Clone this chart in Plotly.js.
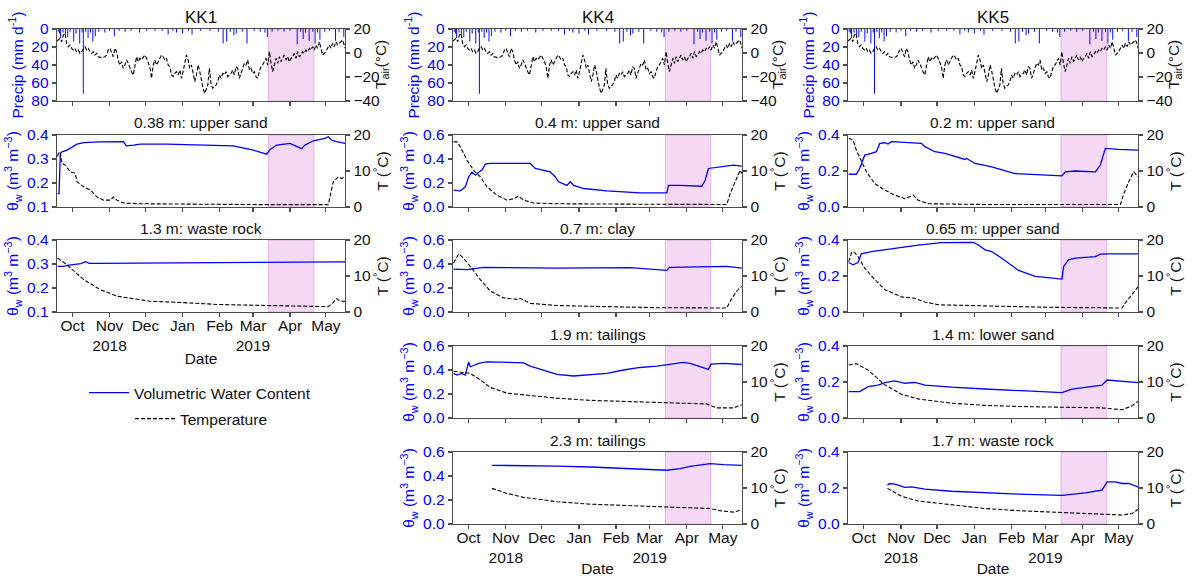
<!DOCTYPE html>
<html><head><meta charset="utf-8">
<script src="https://cdn.plot.ly/plotly-3.0.1.min.js"></script>
<style>html,body{margin:0;padding:0;background:#fff}#chart{width:1196px;height:577px}</style>
</head><body><div id="chart"></div>
<script>
// ---------- DATA (day offsets counted from 2018-09-18) ----------
const monthTickDates = ['2018-10-01','2018-11-01','2018-12-01','2019-01-01','2019-02-01','2019-03-01','2019-04-01','2019-05-01'];
const monthTickText = ['Oct','Nov<br>2018','Dec','Jan','Feb','Mar<br>2019','Apr','May'];
const shadeStart = '2019-03-14';
const shadeEnd = '2019-04-21';

const precipDays = [1,2,3,5,7,9,11,14,16,19,21,22,24,26,28,30,32,35,40,44,48,52,57,62,69,75,82,88,93,97,100,105,110,113,120,128,135,139,142,145,148,150,155,159,165,170,174,176,180,185,190,195,201,204,206,208,211,214,216,218,220,224,228,233,236,240];
const precipMM = [3,5,10,4,6,9,3,14,5,16,4,72,3,10,4,14,8,3,4,2,8,2,3,2,4,2,2,2,6,2,4,5,2,6,2,2,3,16,14,3,7,5,3,16,2,3,4,9,3,2,3,2,17,3,11,4,13,3,16,4,12,3,2,13,3,9];

const airDays = [0,1.1,2.5,3.9,5.3,6.7,8.1,9.5,10.9,12.3,13.6,15,16.4,17.8,19.2,20.6,22,23.4,24.8,26.2,27.6,29,30.4,31.7,33.1,34.5,37.3,40.1,41.5,42.9,44.3,45.7,47.1,48.4,49.8,51.2,52.6,54,55.4,56.8,58.2,59.6,61,62.4,63.8,65.2,66.6,67.9,69.3,70.7,72.1,73.5,74.9,76.3,77.7,79.1,80.5,81.9,83.3,84.7,86.1,87.4,88.8,90.2,91.6,93,94.4,95.8,97.2,98.6,100,101.4,102.8,104.1,105.5,106.9,108.3,109.7,111.1,112.5,113.9,115.3,116.7,118.1,119.5,120.8,122.2,123.6,124.8,126.2,127.5,128.9,130.3,131.7,133.1,134.5,135.9,137.3,138.7,140.1,141.5,142.9,144.3,145.7,147,148.4,149.8,151.2,152.6,154,155.4,156.8,158.2,159.6,161,162.4,163.8,165.2,166.5,167.9,169.3,170.7,172.1,173.5,174.9,176.3,177.7,179.1,180.5,181.9,183.3,184.7,186.1,187.4,188.8,190.2,191.6,193,194.4,195.8,197.2,198.6,200,201.4,202.8,204.2,205.5,206.9,208.3,209.7,211.1,212.5,213.9,215.3,216.7,218.1,219.5,220.9,222.3,223.6,225,226.4,227.8,229.2,230.6,232,233.4,234.8,236.2,237.6,239,240.4,241];
const airT = [10,10.8,12.2,9.4,15,16.4,8,5.2,6.7,3.9,2.5,3.9,1.1,2.5,-0.3,1.1,3.9,5.3,2.5,3.9,1.1,-0.3,1.1,-1.7,-0.3,-3.1,-3.9,-3.1,-1.7,2.5,3.9,-0.3,-3.1,3.9,1.1,-5.8,-10,-7.2,-12.8,-10,-5.8,-8.6,-12.8,-15.6,-18.3,-10,-3.1,-7.2,-4.4,-5.8,-3.1,-1.7,-4.4,-7.2,-11.4,-21.1,-10,-5.8,-10,-7.2,-4.4,-1.7,-3.1,-5.8,-4.4,-10,-11.4,-18.3,-19.7,-16.9,-15.6,-18.3,-14.2,-21.1,-15.6,-7.2,-1.7,-5.8,-12.8,-10,-16.9,-23.9,-18.3,-10,-15.6,-23.9,-29.4,-33.6,-30.8,-26.7,-12.8,-25.3,-29.4,-28.1,-26.7,-23.9,-18.3,-21.1,-17,-18.3,-15.6,-19.7,-18.3,-17,-14.2,-18.3,-11.4,-12.8,-21.1,-17,-12.8,-8.6,-10,-5.8,-14.2,-12.8,-17,-15.6,-19.7,-21.1,-15.6,-11.4,-10,-7.2,-4.4,-10,1.1,-8.6,-15.6,-10,-4.4,-8.6,-3.1,-7.2,-4.4,-1.7,-5.8,-3.1,-7.2,-4.4,-3.1,-0.3,-4.4,1.1,-3.1,-1.7,1.1,-0.3,2.5,1.1,3.9,2.5,5.3,2.5,6.7,3.9,9.4,2.5,-1.7,-0.3,1.1,3.9,6.7,3.9,8.1,5.3,9.4,6.7,8.1,9.4,10.8,6.7,4];

// KK1 0.38 m upper sand
const kk1_038_vwcDays = [0.5,1.7,2.8,4.2,8.4,12.5,16.7,22.3,36.2,55.7,57.9,64.1,69.6,91.9,119.8,147.6,164.3,175.5,178.3,183.8,195,200.6,204.7,207.5,214.5,224.2,227,229.8,234,241];
const kk1_038_vwc = [0.156,0.156,0.323,0.330,0.337,0.351,0.362,0.368,0.371,0.372,0.355,0.358,0.362,0.362,0.360,0.355,0.337,0.320,0.340,0.358,0.365,0.354,0.343,0.358,0.376,0.386,0.393,0.379,0.372,0.365];
const kk1_038_tDays = [0.5,1.4,2.8,4.2,7,11.1,15.3,16.7,22.3,27.9,33.4,39,44.6,47.4,50.1,55.7,69.6,119.8,175.5,227,228.4,231.2,235.4,238.2,241];
const kk1_038_t = [14,15.3,14.9,12.1,11.6,9.8,9.3,7.0,5.6,4.7,2.8,1.9,1.9,2.8,1.9,1.1,0.9,0.7,0.65,0.65,2.8,7.0,8.4,7.9,8.4];
// KK1 1.3 m waste rock
const kk1_13_vwcDays = [0.5,5,10,15,20,24,27,35,60,100,150,200,230,241];
const kk1_13_vwc = [0.29,0.29,0.295,0.298,0.302,0.31,0.303,0.303,0.304,0.305,0.306,0.308,0.31,0.309];
const kk1_13_tDays = [0.5,8.4,22.3,36.2,50.1,78,106,134,175.5,203,227,231,234,237,241];
const kk1_13_t = [15,13.1,9,6.2,4.4,3,2.6,2.1,1.8,1.7,1.5,2.6,3.7,3.0,3.0];
// KK4 0.4 m upper sand
const kk4_04_vwcDays = [0.5,6.1,10.3,13,15.8,18.6,21.4,24.2,26.9,31.1,64.4,68.6,81.1,85.3,88,95,97.8,100.6,108.9,128.3,156,178.3,179.7,189.4,207.5,210.3,213,222.8,233.9,240.8];
const kk4_04_vwc = [0.14,0.134,0.168,0.25,0.29,0.265,0.29,0.307,0.357,0.363,0.363,0.321,0.293,0.25,0.21,0.18,0.21,0.18,0.154,0.134,0.117,0.117,0.18,0.18,0.173,0.223,0.321,0.335,0.349,0.34];
const kk4_04_tDays = [0.5,3.3,6.1,11.7,17.2,22.8,28.3,36.7,45,50.6,54.7,58.9,67.2,86.7,170,228.3,231.1,235.3,239.4,240.8];
const kk4_04_t = [18.1,18.1,16.7,13,10.2,8.4,5.6,3.3,1.9,2.3,3,1.9,1.1,0.9,0.75,0.7,3.7,7,10.2,9.3];
// KK4 0.7 m clay
const kk4_07_vwcDays = [0.5,11.7,25.6,86.7,147.8,170,178.3,180.6,211.7,228.3,240.8];
const kk4_07_vwc = [0.358,0.353,0.372,0.366,0.37,0.353,0.347,0.372,0.38,0.38,0.366];
const kk4_07_tDays = [0.5,4.7,7.5,14.4,22.8,31.1,42.2,53.3,56.1,64.4,86.7,128.3,170,228.3,231.1,236.7,240.8];
const kk4_07_t = [13.6,16.1,15.4,12.7,9,5.8,3.9,3.5,3.8,2.4,1.8,1.5,1.2,1.1,3,5.8,7.2];
// KK4 1.9 m tailings
const kk4_19_vwcDays = [0.5,3.3,7.5,10.3,11.7,13,14.4,17.2,22.8,28.3,45,58.9,64.4,75.6,86.7,100.6,114.4,128.3,142.2,156,170,181.1,192.2,197.8,206.1,213,215,225.6,240.8];
const kk4_19_vwc = [0.372,0.358,0.372,0.358,0.413,0.468,0.427,0.44,0.46,0.468,0.462,0.46,0.432,0.4,0.364,0.35,0.358,0.372,0.4,0.421,0.432,0.449,0.463,0.455,0.427,0.405,0.449,0.455,0.446];
const kk4_19_tDays = [0.5,14.4,22.8,31.1,45,58.9,86.7,114.4,142.2,178.3,211.7,220,233.9,240.8];
const kk4_19_t = [13,12.4,10.6,8.5,6.9,6.4,5.5,4.9,4.6,4.4,3.9,2.8,2.8,3.7];
// KK4 2.3 m tailings
const kk4_23_vwcDays = [32.5,58.9,86.7,114.4,142.2,170,178.3,189.4,197.8,214.4,225.6,240.8];
const kk4_23_vwc = [0.489,0.489,0.483,0.475,0.461,0.448,0.448,0.461,0.48,0.503,0.494,0.489];
const kk4_23_tDays = [32.5,45,58.9,86.7,114.4,142.2,170,197.8,214.4,222.8,233.9,240.8];
const kk4_23_t = [9.9,8.5,7.4,6.2,5.5,5.1,4.8,4.5,4.3,3.7,3.3,3.9];
// KK5 0.2 m upper sand
const kk5_02_vwcDays = [0.6,6.9,9.7,13.9,19.4,23.6,26.4,30.6,33.3,36.1,61.1,63.9,72.2,80.6,97.2,98.6,105.6,119.4,138.9,163.9,177.8,180.6,188.9,205.6,209.7,213.9,225,241];
const kk5_02_vwc = [0.182,0.182,0.214,0.288,0.298,0.307,0.353,0.357,0.35,0.363,0.353,0.335,0.307,0.298,0.264,0.27,0.242,0.223,0.186,0.177,0.173,0.195,0.2,0.195,0.233,0.326,0.32,0.316];
const kk5_02_tDays = [0.6,4.2,6.9,11.1,15.3,22.2,30.6,38.9,47.2,54.2,58.3,66.7,113.9,226.4,229.2,233.3,237.5,241];
const kk5_02_t = [19.1,18.6,15.8,12.6,9.8,6.5,4.7,3.3,2.3,3.3,1.9,0.9,0.7,0.7,3.7,7,9.8,8.4];
// KK5 0.65 m upper sand
const kk5_065_vwcDays = [0.6,4.2,8.3,11.1,19.4,38.9,58.3,77.8,104.2,108.3,113.9,119.4,127.8,141.7,155.6,177.8,179.2,183.3,188.9,205.6,209.7,216.7,241];
const kk5_065_vwc = [0.275,0.262,0.275,0.323,0.336,0.354,0.372,0.385,0.387,0.372,0.345,0.336,0.299,0.231,0.198,0.183,0.253,0.29,0.299,0.308,0.321,0.323,0.323];
const kk5_065_tDays = [0.6,2.8,4.2,5.6,8.3,13.9,22.2,30.6,44.4,55.6,63.9,75,113.9,169.4,227.8,230.6,236.1,241];
const kk5_065_t = [14,16.3,16.8,16.5,15.4,12.2,9,6.2,4.2,3.8,2.8,2,1.7,1.3,1.1,2.6,4.9,7];
// KK5 1.4 m lower sand
const kk5_14_vwcDays = [0.6,9.7,16.7,25,30.6,38.9,47.2,55.6,63.9,86.1,113.9,141.7,177.8,186.1,197.2,211.1,215.3,225,241];
const kk5_14_vwc = [0.147,0.147,0.174,0.183,0.196,0.206,0.193,0.198,0.183,0.171,0.161,0.152,0.141,0.161,0.171,0.183,0.211,0.206,0.196];
const kk5_14_tDays = [0.6,6.9,16.7,30.6,44.4,58.3,86.1,113.9,141.7,177.8,211.1,227.8,236.1,241];
const kk5_14_t = [14.7,15.1,13.3,9.2,6.6,5.3,4.1,3.5,3.2,2.9,2.8,2.3,3.4,4.6];
// KK5 1.7 m waste rock
const kk5_17_vwcDays = [32.8,34.7,38.9,43.1,47.2,52.8,63.9,86.1,113.9,141.7,177.8,197.2,211.1,215.3,222.2,227.8,233.3,241];
const kk5_17_vwc = [0.216,0.225,0.221,0.21,0.203,0.206,0.194,0.182,0.173,0.166,0.159,0.173,0.188,0.234,0.234,0.225,0.225,0.206];
const kk5_17_tDays = [32.8,44.4,58.3,86.1,113.9,141.7,177.8,211.1,227.8,236.1,241];
const kk5_17_t = [9.9,7.7,6.4,5.3,4.3,3.7,3.2,2.8,2.5,2.9,4.1];

// ---------- BUILD ----------
const D0 = Date.UTC(2018, 8, 18);
function toDate(d){ return new Date(D0 + d*864e5).toISOString().replace('T',' ').slice(0,19); }

const W=1196, H=577;
const FONT='"Liberation Sans", Arial, sans-serif';
const FS=15.5;
const BLUE='#0000ff';
const SPINE='#4d4d4d';
const TXT='#111111';
const colPx=[[57,345],[453,742],[848,1138]];
const rowTop=[29,135,240,346,452];
const rowH=72;

const vwcTicks3=[0.1,0.2,0.3,0.4], vwcTicks6=[0,0.2,0.4,0.6], vwcTicks4=[0,0.2,0.4];
const panels=[
 {col:0,row:0,met:true,title:'KK1'},
 {col:0,row:1,title:'0.38 m: upper sand',vr:[0.1,0.4],vt:vwcTicks3,vd:kk1_038_vwcDays,v:kk1_038_vwc,td:kk1_038_tDays,t:kk1_038_t,legend:true},
 {col:0,row:2,title:'1.3 m: waste rock',vr:[0.1,0.4],vt:vwcTicks3,vd:kk1_13_vwcDays,v:kk1_13_vwc,td:kk1_13_tDays,t:kk1_13_t,bottom:true},
 {col:1,row:0,met:true,title:'KK4'},
 {col:1,row:1,title:'0.4 m: upper sand',vr:[0,0.6],vt:vwcTicks6,vd:kk4_04_vwcDays,v:kk4_04_vwc,td:kk4_04_tDays,t:kk4_04_t},
 {col:1,row:2,title:'0.7 m: clay',vr:[0,0.6],vt:vwcTicks6,vd:kk4_07_vwcDays,v:kk4_07_vwc,td:kk4_07_tDays,t:kk4_07_t},
 {col:1,row:3,title:'1.9 m: tailings',vr:[0,0.6],vt:vwcTicks6,vd:kk4_19_vwcDays,v:kk4_19_vwc,td:kk4_19_tDays,t:kk4_19_t},
 {col:1,row:4,title:'2.3 m: tailings',vr:[0,0.6],vt:vwcTicks6,vd:kk4_23_vwcDays,v:kk4_23_vwc,td:kk4_23_tDays,t:kk4_23_t,bottom:true},
 {col:2,row:0,met:true,title:'KK5'},
 {col:2,row:1,title:'0.2 m: upper sand',vr:[0,0.4],vt:vwcTicks4,vd:kk5_02_vwcDays,v:kk5_02_vwc,td:kk5_02_tDays,t:kk5_02_t},
 {col:2,row:2,title:'0.65 m: upper sand',vr:[0,0.4],vt:vwcTicks4,vd:kk5_065_vwcDays,v:kk5_065_vwc,td:kk5_065_tDays,t:kk5_065_t},
 {col:2,row:3,title:'1.4 m: lower sand',vr:[0,0.4],vt:vwcTicks4,vd:kk5_14_vwcDays,v:kk5_14_vwc,td:kk5_14_tDays,t:kk5_14_t},
 {col:2,row:4,title:'1.7 m: waste rock',vr:[0,0.4],vt:vwcTicks4,vd:kk5_17_vwcDays,v:kk5_17_vwc,td:kk5_17_tDays,t:kk5_17_t,bottom:true},
];

const idOf=(l,n)=> n===1? l : l+n;
const keyOf=(l,n)=> n===1? l+'axis' : l+'axis'+n;
const axBase={showline:true,linecolor:SPINE,linewidth:1.3,ticks:'outside',ticklen:4,tickwidth:1.2,tickcolor:SPINE,showgrid:false,zeroline:false,fixedrange:true};
const dashT='4px,2px';

const traces=[], shapes=[], annotations=[];
const legendBase={xanchor:'left',yanchor:'middle',bgcolor:'rgba(0,0,0,0)',itemwidth:40,font:{family:FONT,size:FS,color:TXT}};
const layout={width:W,height:H,margin:{l:0,r:0,t:0,b:0},paper_bgcolor:'#fff',plot_bgcolor:'#fff',
  font:{family:FONT,size:FS,color:TXT},showlegend:true,
  legend:Object.assign({},legendBase,{x:84/W,y:1-393/H}),
  legend2:Object.assign({},legendBase,{x:130/W,y:1-419/H})
};

panels.forEach((p,k)=>{
  const i=k+1, xl=2*i-1, yr=2*i;
  const xid=idOf('x',i), ylid=idOf('y',xl), yrid=idOf('y',yr);
  const [c0,c1]=colPx[p.col];
  const top=rowTop[p.row];
  const xa=Object.assign({},axBase,{
    domain:[c0/W,c1/W],anchor:ylid,type:'date',range:[toDate(0),toDate(241)],
    tickmode:'array',tickvals:monthTickDates,showticklabels:!!p.bottom,mirror:true
  });
  if(p.bottom){
    xa.ticktext=monthTickText;
    xa.tickfont={family:FONT,size:FS,color:TXT};
    xa.ticklabelstandoff=-5;
    xa.title={text:'Date',font:{family:FONT,size:FS,color:TXT},standoff:0};
  }
  layout[keyOf('x',i)]=xa;
  layout[keyOf('y',xl)]=Object.assign({},axBase,{
    domain:[1-(top+rowH)/H,1-top/H],anchor:xid,
    range:p.met?[80,0]:p.vr,tickmode:'array',tickvals:p.met?[0,20,40,60,80]:p.vt,
    tickformat:p.met?'d':'.1f',tickfont:{family:FONT,size:FS,color:BLUE},
    title:{text:p.met?'Precip (mm d<sup>-1</sup>)':'θ<sub>w</sub> (m<sup>3</sup> m<sup>−3</sup>)',font:{family:FONT,size:FS,color:BLUE},standoff:4}
  });
  const ya2=Object.assign({},axBase,{
    overlaying:ylid,side:'right',anchor:xid,
    range:p.met?[-40,20]:[0,20],tickmode:'array',tickvals:p.met?[-40,-20,0,20]:[0,10,20],
    tickfont:{family:FONT,size:FS,color:TXT}
  });
  if(!p.met) ya2.title={text:'T (<sup>°</sup>C)',font:{family:FONT,size:FS,color:TXT},standoff:2};
  layout[keyOf('y',yr)]=ya2;
  shapes.push({type:'rect',xref:xid,yref:ylid+' domain',x0:shadeStart,x1:shadeEnd,y0:0,y1:1,
    fillcolor:'rgba(200,60,200,0.2)',line:{color:'rgba(200,60,200,0.3)',width:1},layer:'below'});
  if(p.met){
    traces.push({type:'bar',x:precipDays.map(toDate),y:precipMM,xaxis:xid,yaxis:ylid,width:0.8*864e5,
      marker:{color:BLUE,line:{width:0}},showlegend:false,hoverinfo:'skip'});
    traces.push({type:'scatter',mode:'lines',x:airDays.map(toDate),y:airT,xaxis:xid,yaxis:yrid,
      line:{color:'#000',width:1.1,dash:dashT},showlegend:false,hoverinfo:'skip'});
    annotations.push({text:p.title,xref:'paper',yref:'paper',x:(c0+c1)/2/W,y:1-18/H,xanchor:'center',yanchor:'middle',showarrow:false,font:{family:FONT,size:17,color:TXT}});
    // right-axis title for air temperature
    annotations.push({text:'T<sub>air</sub>(°C)',xref:'paper',yref:'paper',x:(c1+37)/W,y:1-(top+rowH/2)/H,xanchor:'center',yanchor:'middle',textangle:-90,showarrow:false,font:{family:FONT,size:FS,color:TXT}});
  } else {
    traces.push({type:'scatter',mode:'lines',x:p.vd.map(toDate),y:p.v,xaxis:xid,yaxis:ylid,
      name:'Volumetric Water Content',legend:'legend',showlegend:!!p.legend,
      line:{color:BLUE,width:1.3},hoverinfo:'skip'});
    traces.push({type:'scatter',mode:'lines',x:p.td.map(toDate),y:p.t,xaxis:xid,yaxis:yrid,
      name:'Temperature',legend:'legend2',showlegend:!!p.legend,
      line:{color:'#000',width:1.1,dash:dashT},hoverinfo:'skip'});
    annotations.push({text:p.title,xref:'paper',yref:'paper',x:(c0+c1)/2/W,y:1-(top-12)/H,xanchor:'center',yanchor:'middle',showarrow:false,font:{family:FONT,size:FS,color:TXT}});
  }
});
layout.shapes=shapes; layout.annotations=annotations;
Plotly.newPlot('chart',traces,layout,{staticPlot:true,displayModeBar:false});
</script></body></html>
